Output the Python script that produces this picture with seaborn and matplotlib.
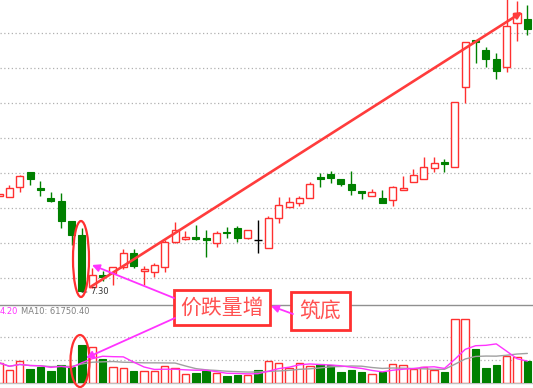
import numpy as np
import pandas as pd
import seaborn as sns
import matplotlib
matplotlib.use("Agg")
import matplotlib.pyplot as plt
from matplotlib.patches import Ellipse

sns.set_style("white")
plt.rcParams['font.family'] = ['Noto Sans CJK SC', 'DejaVu Sans']

# daily bars
opens = [8.67, 8.66, 8.80, 9.01, 8.79, 8.64, 8.60, 8.31, 8.11, 7.37,
         7.54, 7.57, 7.66, 7.86, 7.60, 7.59, 7.66, 8.01, 8.06, 8.09,
         8.07, 8.00, 8.16, 8.21, 8.07, 8.04, 7.93, 8.36, 8.51, 8.57,
         8.64, 8.94, 8.99, 8.91, 8.84, 8.74, 8.67, 8.64, 8.61, 8.76,
         8.87, 8.91, 9.07, 9.16, 9.09, 10.23, 10.90, 10.76, 10.63, 10.51,
         11.14, 11.20]
highs = [8.70, 8.83, 8.97, 9.01, 8.89, 8.73, 8.71, 8.31, 8.21, 7.64,
         7.60, 7.66, 7.91, 7.91, 7.67, 7.71, 8.04, 8.30, 8.17, 8.26,
         8.19, 8.17, 8.23, 8.24, 8.19, 8.33, 8.39, 8.66, 8.66, 8.67,
         8.87, 9.00, 9.03, 8.91, 9.03, 8.74, 8.77, 8.76, 8.81, 8.96,
         9.06, 9.23, 9.23, 9.20, 10.01, 10.87, 10.90, 10.80, 10.71, 11.50,
         11.46, 11.40]
lows = [8.67, 8.66, 8.73, 8.83, 8.67, 8.59, 8.21, 7.97, 7.30, 7.36,
        7.46, 7.40, 7.63, 7.64, 7.40, 7.51, 7.59, 8.00, 8.04, 8.04,
        7.80, 7.94, 8.07, 8.01, 8.06, 7.86, 7.93, 8.29, 8.51, 8.53,
        8.64, 8.80, 8.86, 8.81, 8.69, 8.63, 8.67, 8.57, 8.53, 8.76,
        8.87, 8.91, 9.01, 9.01, 9.09, 10.00, 10.57, 10.51, 10.34, 10.44,
        10.89, 10.97]
closes = [8.70, 8.79, 8.96, 8.91, 8.76, 8.60, 8.31, 8.11, 7.31, 7.54,
          7.51, 7.66, 7.86, 7.67, 7.63, 7.69, 8.01, 8.19, 8.09, 8.06,
          8.04, 8.14, 8.14, 8.07, 8.19, 8.04, 8.36, 8.54, 8.59, 8.64,
          8.84, 8.91, 8.93, 8.84, 8.76, 8.71, 8.73, 8.57, 8.80, 8.79,
          8.97, 9.09, 9.14, 9.13, 10.01, 10.87, 10.87, 10.63, 10.46, 11.10,
          11.29, 11.06]
volumes = [44000, 28600, 48400, 30800, 35200, 26400, 39600, 35200, 83600, 79200,
           52800, 35200, 33000, 26400, 26400, 26400, 37400, 33000, 19800, 22000,
           26400, 22000, 15400, 17600, 17600, 28600, 48400, 44000, 33000, 44000,
           37400, 41800, 39600, 24200, 28600, 24200, 19800, 24200, 41800, 39600,
           30800, 35200, 28600, 24200, 138600, 138600, 74800, 33000, 39600, 59400,
           57200, 48400]

low_label = "7.30"
high_label = "11.50"
ma_tail = "4.20"
ma10_label = "MA10: 61750.40"
box1_text = "价跌量增"
box2_text = "筑底"

df = pd.DataFrame({"open": opens, "high": highs, "low": lows,
                   "close": closes, "vol": volumes})
df["idx"] = np.arange(len(df))
df["ma5"] = df["vol"].rolling(5, min_periods=1).mean()
df["ma10"] = df["vol"].rolling(10, min_periods=1).mean()

RED = "#ff3030"
GREEN = "#008000"
MAG = "#ff33ff"
W, H = 533, 388

fig = plt.figure(figsize=(W / 100, H / 100), dpi=100)
ax = fig.add_axes([0, 88 / H, 1, 300 / H])
ax2 = fig.add_axes([0, 5 / H, 1, 78 / H])

up = df["close"] > df["open"]
down = df["close"] < df["open"]
flat = df["close"] == df["open"]
colors = np.where(up, RED, np.where(down, GREEN, "black"))
body_lo = np.minimum(df["open"], df["close"])
body_h = (df["close"] - df["open"]).abs()

# candles
ax.vlines(df["idx"], df["low"], df["high"], colors=colors, lw=1, zorder=2)
ax.bar(df["idx"][up], body_h[up], bottom=body_lo[up], width=0.68,
       facecolor="white", edgecolor=RED, lw=1, zorder=3)
ax.bar(df["idx"][down], body_h[down], bottom=body_lo[down], width=0.68,
       color=GREEN, edgecolor=GREEN, lw=0.8, zorder=3)
ax.hlines(df["close"][flat], df["idx"][flat] - 0.34, df["idx"][flat] + 0.34,
          colors="black", lw=1, zorder=3)

ax.set_xlim(1 / 10.36, 534 / 10.36)
ax.set_ylim(7.30 - 8 / 70, 7.30 + 292 / 70)
ax.set_yticks(np.arange(7.5, 11.01, 0.5))
ax.grid(axis="y", color="#b0b0b0", ls=(0, (1, 2)), lw=0.9)
ax.set_xticks([])
ax.tick_params(left=False, labelleft=False)
for s in ax.spines.values():
    s.set_visible(False)

ax.annotate(low_label, xy=(8, 7.30), xytext=(6, 0), textcoords="offset points",
            ha="left", va="center", fontsize=6, color="#333333",
            family=["DejaVu Sans"],
            arrowprops=dict(arrowstyle="-", color="#333333", lw=0.6,
                            shrinkA=0, shrinkB=0))
ax.annotate(high_label, xy=(49, 11.50), xytext=(-5, 0), textcoords="offset points",
            ha="right", va="center", fontsize=6, color="#333333",
            family=["DejaVu Sans"], annotation_clip=False,
            arrowprops=dict(arrowstyle="-", color="#333333", lw=0.6,
                            shrinkA=0, shrinkB=0))

# trend arrow
ax.annotate("", xy=(50.5, 11.30), xytext=(8.8, 7.37),
            arrowprops=dict(arrowstyle="-|>", color="#ff3c3c", lw=1.9,
                            mutation_scale=9, shrinkA=0, shrinkB=0))

# volume
ax2.bar(df["idx"][up], df["vol"][up], width=0.72, facecolor="white",
        edgecolor=RED, lw=1, zorder=3)
ax2.bar(df["idx"][~up], df["vol"][~up], width=0.72, color=GREEN,
        edgecolor=GREEN, lw=0.8, zorder=3)
sns.lineplot(x=df["idx"], y=df["ma10"], ax=ax2, color="#a0a0a0", lw=1,
             legend=False, zorder=4)
sns.lineplot(x=df["idx"], y=df["ma5"], ax=ax2, color=MAG, lw=1,
             legend=False, zorder=5)
ax2.set_xlim(1 / 10.36, 534 / 10.36)
ax2.set_ylim(0, 77 * 2200)
ax2.set_yticks([50000, 100000])
ax2.grid(axis="y", color="#b0b0b0", ls=(0, (1, 2)), lw=0.9)
ax2.set_xticks([])
ax2.tick_params(left=False, labelleft=False)
ax2.set_xlabel("")
ax2.set_ylabel("")
for s in ["left", "right"]:
    ax2.spines[s].set_visible(False)
ax2.spines["top"].set_color("#909090")
ax2.spines["bottom"].set_color("#c0c0c0")
ax2.spines["top"].set_linewidth(1)
ax2.spines["bottom"].set_linewidth(1)


def fp(x, y):
    return (x / W, 1 - y / H)


fig.text(*fp(0, 312), ma_tail, color=MAG, fontsize=6, va="center",
         family=["DejaVu Sans"])
fig.text(*fp(21, 312), ma10_label, color="#808080", fontsize=6, va="center",
         family=["DejaVu Sans"])

# ellipses
fig.add_artist(Ellipse(fp(81, 259), 16 / W, 76 / H, fill=False, ec=RED,
                       lw=1.6, transform=fig.transFigure, zorder=10))
fig.add_artist(Ellipse(fp(80, 361), 19 / W, 52 / H, fill=False, ec=RED,
                       lw=1.6, transform=fig.transFigure, zorder=10))

# boxes
fig.text(*fp(222, 307.5), box1_text, fontsize=15, color="#ff5050",
         ha="center", va="center", zorder=11,
         bbox=dict(boxstyle="square,pad=0.3", fc="white", ec=RED, lw=2))
fig.text(*fp(320.5, 311), box2_text, fontsize=15, color="#ff5050",
         ha="center", va="center", zorder=11,
         bbox=dict(boxstyle="square,pad=0.4", fc="white", ec=RED, lw=2))

# magenta arrows
for tail, head in [((174, 298), (92, 265)), ((175, 318), (86, 358)),
                   ((293, 314), (271, 306))]:
    fig.add_artist(plt.Annotation("", xy=fp(*head), xytext=fp(*tail),
                                  xycoords="figure fraction",
                                  textcoords="figure fraction",
                                  arrowprops=dict(arrowstyle="-|>", color=MAG,
                                                  lw=1.3, mutation_scale=11,
                                                  shrinkA=0, shrinkB=0),
                                  zorder=12))

fig.savefig("out.png", dpi=100)
